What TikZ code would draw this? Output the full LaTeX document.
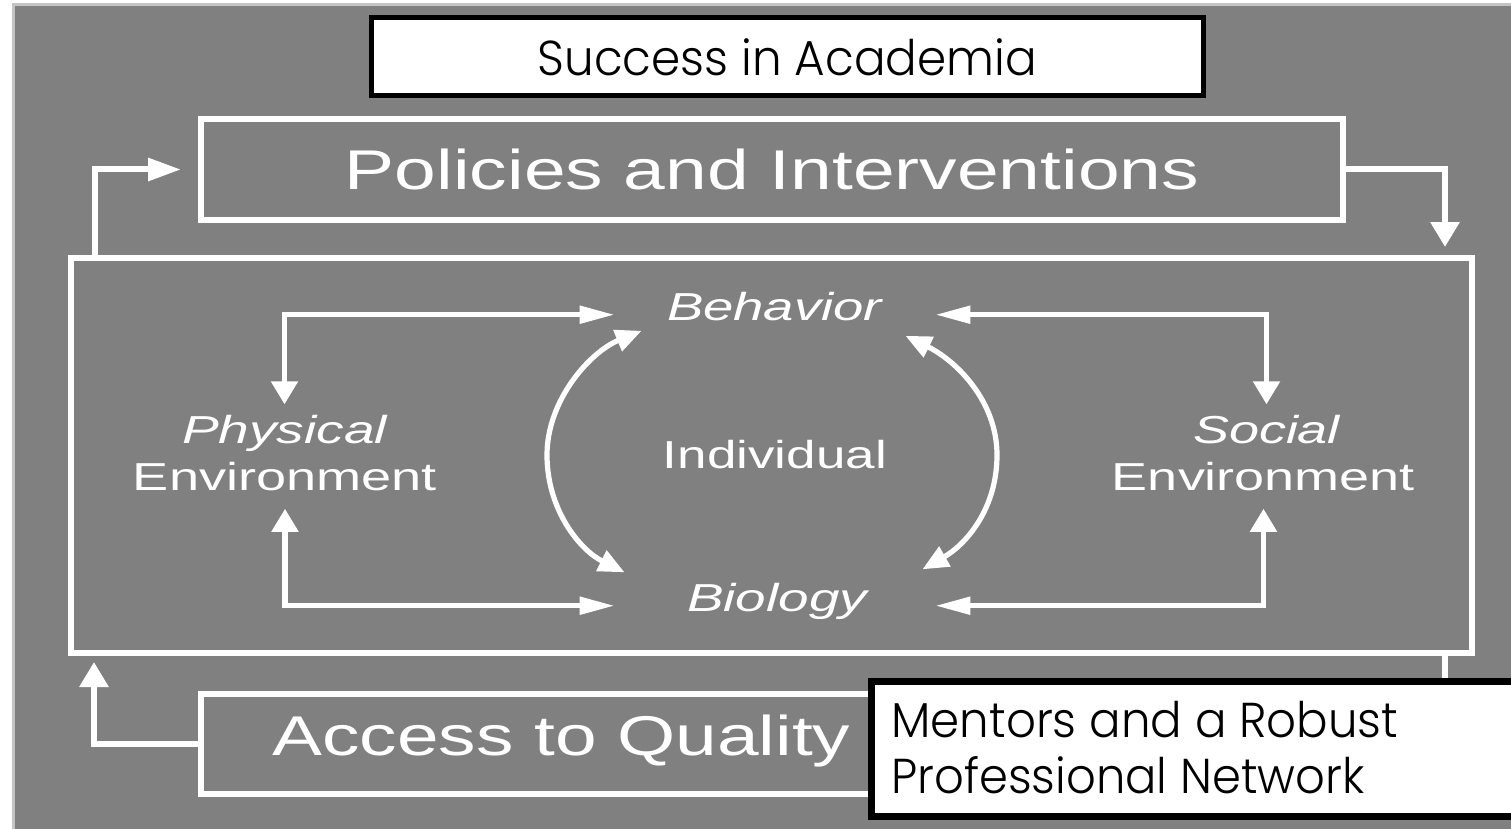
\documentclass[tikz,border=0pt]{standalone}
\usepackage{fontspec}
\usepackage{graphicx}
\setmainfont{Liberation Sans}
\newfontfamily\gothicfont{Poppins}[UprightFont=* Light]
\usetikzlibrary{arrows.meta,calc}
\definecolor{panel}{HTML}{808080}
\definecolor{panelEdge}{HTML}{C4C4C4}
% stretch a text horizontally to a given width, keeping its height
\newcommand\fitw[2]{\resizebox{#1}{\height}{#2}}

\begin{document}
\begin{tikzpicture}[x=0.5pt,y=-0.5pt,
  frameline/.style={draw=white, line width=3pt, inner sep=0pt},
  outerlink/.style={draw=white, line width=3pt},
  innerlink/.style={draw=white, line width=2.6pt},
  bigtext/.style={text=white, inner sep=0pt, font=\fontsize{28pt}{34pt}\selectfont},
  smalltext/.style={text=white, inner sep=0pt, font=\fontsize{19.5pt}{24pt}\selectfont},
  callout/.style={draw=black, fill=white, inner sep=0pt},
  callouttext/.style={text=black, inner sep=0pt, font=\gothicfont\fontsize{24.5pt}{28pt}\selectfont}]

\useasboundingbox (0,0) rectangle (1511,829);
\clip (0,0) rectangle (1511,829);

% grey panel with its light edge
\fill[panel] (12,3) rectangle (1511,829);
\draw[panelEdge, line width=1.5pt] (13.5,829) -- (13.5,4.5) -- (1511,4.5);

% outer boxes
\node[frameline, minimum width=700.5pt, minimum height=197.5pt] (frame) at (771.5,455.5) {};
\node[frameline, minimum width=571pt, minimum height=50.5pt, bigtext] (pol) at (772,169.5)
  {\fitw{427pt}{Policies and Interventions}};
\node[frameline, minimum width=571pt, minimum height=50pt] (acc) at (772,744) {};
\node[bigtext, anchor=base west] (acctxt) at (272,755) {\fitw{289pt}{Access to Quality}};

% links between the outer levels
\draw[outerlink, -{Triangle[length=16.5pt,width=11pt]}, shorten >=8.5pt]
  ([xshift=13.5pt]frame.north west) |- (pol.west);
\draw[outerlink, -{Triangle[length=12.5pt,width=14pt]}, shorten >=4pt]
  (pol.east) -| ([xshift=-15pt]frame.north east);
\draw[outerlink, -{Triangle[length=12.5pt,width=14pt]}, shorten >=3pt]
  (acc.west) -| ([xshift=13pt]frame.south west);
\draw[outerlink] ([xshift=-15pt]frame.south east) |- (acc.east);

% inner labels
\node[smalltext, anchor=base] (beh) at (774.5,320) {\fitw{107.5pt}{\itshape Behavior}};
\node[smalltext, anchor=base] (ind) at (775,468) {\fitw{112pt}{Individual}};
\node[smalltext, anchor=base] (bio) at (777,611) {\fitw{90pt}{\itshape Biology}};
\node[smalltext, anchor=base] (phys) at (284.5,443) {\fitw{102.5pt}{\itshape Physical}};
\node[smalltext, anchor=base] (envL) at (285,490) {\fitw{152pt}{Environment}};
\node[smalltext, anchor=base] (soc) at (1266.5,443) {\fitw{73.5pt}{\itshape Social}};
\node[smalltext, anchor=base] (envR) at (1263.5,490) {\fitw{151.5pt}{Environment}};

% inner links
\draw[innerlink, {Triangle[length=11.5pt,width=13pt]}-{Triangle[length=17.5pt,width=8.5pt]},
  shorten <=5pt, shorten >=26pt] (phys.north) |- (beh.mid west);
\draw[innerlink, {Triangle[length=11.5pt,width=13pt]}-{Triangle[length=17.5pt,width=8.5pt]},
  shorten <=9pt, shorten >=36pt] (envL.south) |- (bio.mid west);
\draw[innerlink, {Triangle[length=11.5pt,width=13pt]}-{Triangle[length=17.5pt,width=8.5pt]},
  shorten <=5pt, shorten >=26.5pt] (soc.north) |- (beh.mid east);
\draw[innerlink, {Triangle[length=11.5pt,width=13pt]}-{Triangle[length=17.5pt,width=8.5pt]},
  shorten <=9pt, shorten >=34pt] (envR.south) |- (bio.mid east);

% the two arcs around the individual
\draw[innerlink, {Triangle[length=13pt,width=11pt]}-{Triangle[length=13pt,width=11pt]}]
  ($(beh.south west)+(-25,10)$) .. controls (590,352) and (547,400) .. (547,455)
  .. controls (547,510) and (580,550) .. ($(bio.north west)+(-62,-10)$);
\draw[innerlink, {Triangle[length=13pt,width=11pt]}-{Triangle[length=13pt,width=11pt]}]
  ($(beh.south east)+(23,15)$) .. controls (955,360) and (997,400) .. (997,455)
  .. controls (997,510) and (965,545) .. ($(bio.north east)+(55,-13)$);

% callouts on top
\node[callout, line width=2.5pt, minimum width=415.75pt, minimum height=39pt, callouttext]
  (title) at (787.25,57) {\fitw{249.5pt}{Success in Academia}};
\node[callout, line width=3.5pt, minimum width=326.75pt, minimum height=67.5pt]
  (ment) at (1198.25,749) {};
\node[callouttext, anchor=base west] (m1) at (891,737) {\fitw{253.5pt}{Mentors and a Robust}};
\node[callouttext, anchor=base west] (m2) at (891,793) {\fitw{236.5pt}{Professional Network}};

\end{tikzpicture}
\end{document}
